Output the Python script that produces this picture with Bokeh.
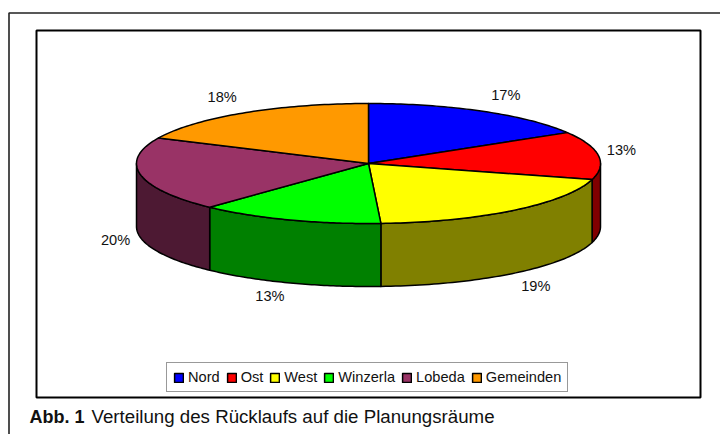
import numpy as np
from bokeh.plotting import figure
from bokeh.models import Range1d, Legend, LegendItem
from bokeh.embed import file_html
from bokeh.resources import INLINE

# Data
categories = ["Nord", "Ost", "West", "Winzerla", "Lobeda", "Gemeinden"]
shares = [16.4, 12.9, 19.85, 12.85, 20.0, 18.0]   # slice sizes as measured in the picture
labels = ["17%", "13%", "19%", "13%", "20%", "18%"]
top_colors = ["#0000FF", "#FF0000", "#FFFF00", "#00FF00", "#993366", "#FF9900"]
wall_colors = ["#000080", "#800000", "#808000", "#008000", "#4D1933", "#804D00"]

# Layout (reference pixels)
W, H = 720, 434
CX, CY, RX, RY, DEPTH = 368, 163, 232, 60, 63
label_offset = [(23, -16), (23, -5), (22, 76), (-19, 76), (-25, 65), (-22, -16)]
FONT = "Liberation Sans"

def rim(a):
    a = np.radians(a)
    return CX + RX * np.sin(a), CY - RY * np.cos(a)

p = figure(width=W, height=H, x_range=Range1d(0, W), y_range=Range1d(H, 0),
           toolbar_location=None, output_backend="svg", min_border=0)
p.axis.visible = False
p.grid.visible = False
p.outline_line_color = None
p.background_fill_color = "white"
p.border_fill_color = "white"

# frames
p.line([8.5, 8.5, 720], [434, 12.5, 12.5], line_color="#222222", line_width=1.6)
p.patch([36, 700, 700, 36], [30, 30, 397, 397], fill_color="white", line_color="black", line_width=2)

edges = np.concatenate([[0], np.cumsum(shares)]) / sum(shares) * 360
tops = []
# side walls (only the front half, 90..270 degrees, is visible)
for i in range(len(shares)):
    a0, a1 = max(edges[i], 90), min(edges[i + 1], 270)
    if a1 <= a0:
        continue
    t = np.linspace(a0, a1, 60)
    x, y = rim(t)
    p.patch(np.r_[x, x[::-1]], np.r_[y, (y + DEPTH)[::-1]], fill_color=wall_colors[i],
            line_color="black", line_width=1.5, line_join="round")
# top faces
for i in range(len(shares)):
    t = np.linspace(edges[i], edges[i + 1], 60)
    x, y = rim(t)
    r = p.patch(np.r_[CX, x], np.r_[CY, y], fill_color=top_colors[i],
                line_color="black", line_width=1.5, line_join="round")
    tops.append(r)

# labels
mids = (edges[:-1] + edges[1:]) / 2
mx, my = rim(mids)
lx = mx + np.array([o[0] for o in label_offset])
ly = my + np.array([o[1] for o in label_offset])
p.text(lx, ly, text=labels, text_font_size="14.6px", text_font={"value": FONT},
       text_align="center", text_baseline="middle", text_color="#111111")

# caption
p.text([29], [416], text=["Abb. 1"], text_font_size="18px", text_font={"value": FONT},
       text_font_style="bold", text_baseline="middle", text_color="#111111")
p.text([91], [416], text=["Verteilung des Rücklaufs auf die Planungsräume"], text_font_size="18.7px",
       text_font={"value": FONT}, text_baseline="middle", text_color="#111111")

legend = Legend(items=[LegendItem(label=c, renderers=[r]) for c, r in zip(categories, tops)],
                orientation="horizontal", location=(166, 42), margin=0, padding=6, spacing=6,
                glyph_width=11, glyph_height=11, label_standoff=4,
                label_text_font=FONT, label_text_font_size="14.6px", label_text_color="#111111",
                border_line_color="#333333", border_line_width=1, background_fill_alpha=1)
p.add_layout(legend, "center")

open("out.html", "w").write(file_html(p, INLINE))
